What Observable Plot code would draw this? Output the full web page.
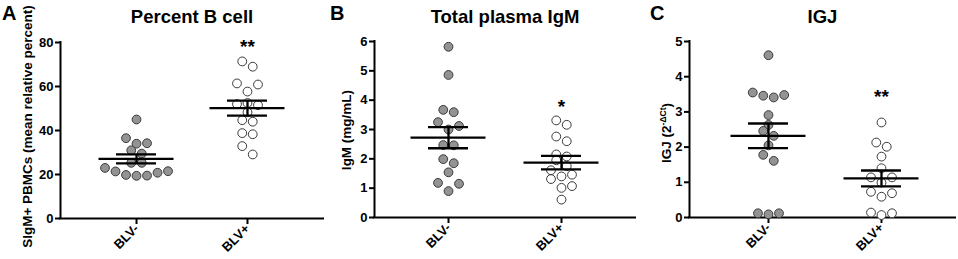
<!DOCTYPE html>
<html><head><meta charset="utf-8">
<script src="https://cdn.jsdelivr.net/npm/d3@7"></script>
<script src="https://cdn.jsdelivr.net/npm/@observablehq/plot@0.6"></script>
<style>
body{margin:0;background:#fff;}
#chart{position:relative;width:958px;height:259px;font-family:"Liberation Sans",Arial,sans-serif;}
#chart svg{position:absolute;top:0;}
</style></head><body><div id="chart"></div>
<script>
// ---- data ----
const groups = ["BLV-", "BLV+"];
const panelLetters = ["A", "B", "C"];
const panelTitles = ["Percent B cell", "Total plasma IgM", "IGJ"];

const percentBNeg = [45, 36.5, 34.2, 34, 31, 29.5, 25.3, 25.3, 23, 21.4, 21.5, 20.8, 19.8, 19.4, 19.5];
const percentBPos = [71.4, 69, 61.4, 60.9, 57.7, 52.5, 52, 51.5, 48.3, 44.7, 44, 38.8, 38.3, 32.9, 29.1];
const igmNeg = [5.82, 4.86, 3.67, 3.59, 3.25, 3.12, 3.0, 2.47, 2.46, 1.99, 1.85, 1.54, 1.18, 1.15, 0.90];
const igmPos = [3.31, 3.16, 2.76, 2.60, 2.15, 2.08, 1.95, 1.75, 1.61, 1.46, 1.40, 1.31, 1.07, 1.01, 0.61];
const igjNeg = [4.61, 3.55, 3.46, 3.41, 3.48, 2.91, 2.63, 2.46, 2.32, 2.05, 1.78, 1.61, 0.12, 0.09, 0.12];
const igjPos = [2.70, 2.13, 2.01, 1.73, 1.40, 1.14, 1.14, 0.99, 0.73, 0.69, 0.59, 0.14, 0.12, 0.07];

const percentBMean = [27.1, 50.2], percentBSem = [2.05, 3.4];
const igmMean = [2.72, 1.87], igmSem = [0.36, 0.23];
const igjMean = [2.32, 1.11], igjSem = [0.35, 0.225];

const sigLabels = ["**", "*", "**"];
const sigValues = [80, 3.9, 3.54];

const yDomains = [[0, 80], [0, 6], [0, 5]];
const yTickValues = [[0, 20, 40, 60, 80], [0, 1, 2, 3, 4, 5, 6], [0, 1, 2, 3, 4, 5]];

// ---- layout (positions / styles) ----
const layout = [
  {left: 0,   width: 330, ml: 60, mr: 7, mt: 42, mb: 41, xDomain: [-0.685, 1.685], letterX: 2,  labelX: 32, labelY: 126.5},
  {left: 330, width: 310, ml: 44, mr: 5, mt: 41, mb: 42, xDomain: [-0.655, 1.655], letterX: 0,  labelX: 21, labelY: 130},
  {left: 640, width: 318, ml: 49, mr: 3, mt: 41, mb: 42, xDomain: [-0.699, 1.655], letterX: 10, labelX: 31, labelY: 133}
];
const panelData = [[percentBNeg, percentBPos], [igmNeg, igmPos], [igjNeg, igjPos]];
const panelMeans = [percentBMean, igmMean, igjMean];
const panelSems = [percentBSem, igmSem, igjSem];

const R = 4.4, SPACING_PX = 10.5, ROW_PX = 9, MEAN_HALF_PX = 37.5, CAP_HALF_PX = 20;
const FONT = '"Liberation Sans", Arial, Helvetica, sans-serif';

// Prism-like column scatter: bin values into rows, spread each row symmetrically
function swarm(values, cx, pxPerY, pxPerX) {
  const idx = d3.range(values.length).sort((a, b) => values[a] - values[b]);
  const out = new Array(values.length);
  let i = 0;
  while (i < idx.length) {
    const v0 = values[idx[i]];
    let j = i;
    while (j < idx.length && (values[idx[j]] - v0) * pxPerY < ROW_PX) j++;
    const n = j - i;
    for (let k = 0; k < n; k++) {
      let slot;
      if (n % 2) slot = k === 0 ? 0 : (k % 2 ? (k + 1) / 2 : -k / 2);
      else slot = (k % 2 ? -1 : 1) * (Math.floor(k / 2) + 0.5);
      out[idx[i + k]] = cx + slot * SPACING_PX / pxPerX;
    }
    i = j;
  }
  return out;
}

const chart = document.getElementById("chart");
const H = 259;

layout.forEach((L, p) => {
  const frameW = L.width - L.ml - L.mr;
  const frameH = H - L.mt - L.mb;
  const yD = yDomains[p];
  const pxPerX = frameW / (L.xDomain[1] - L.xDomain[0]);
  const pxPerY = frameH / (yD[1] - yD[0]);
  const points = [];
  panelData[p].forEach((vals, g) => {
    const xs = swarm(vals, g, pxPerY, pxPerX);
    vals.forEach((v, i) => points.push({g, v, x: xs[i]}));
  });
  const stats = groups.map((name, g) => ({g, mean: panelMeans[p][g], sem: panelSems[p][g]}));
  const mh = MEAN_HALF_PX / pxPerX, ch = CAP_HALF_PX / pxPerX;

  const svg = Plot.plot({
    width: L.width, height: H,
    marginLeft: L.ml, marginRight: L.mr, marginTop: L.mt, marginBottom: L.mb,
    style: {background: "none", fontFamily: FONT, fontSize: "13px", fontWeight: "bold", color: "#000", overflow: "visible"},
    x: {domain: L.xDomain, axis: null},
    y: {domain: yD, axis: null},
    marks: [
      Plot.axisY({ticks: yTickValues[p], tickFormat: d3.format("d"), tickSize: 5, tickPadding: 2, strokeWidth: 2, label: null, fontSize: 13, fontWeight: "bold"}),
      Plot.axisX({ticks: [0, 1], tickFormat: i => groups[i], tickRotate: -45, tickSize: 6, tickPadding: 2, strokeWidth: 2, label: null, fontSize: 13, fontWeight: "bold"}),
      Plot.ruleX([L.xDomain[0]], {y1: yD[0], y2: yD[1], strokeWidth: 2, strokeLinecap: "square"}),
      Plot.ruleY([yD[0]], {strokeWidth: 2, strokeLinecap: "square"}),
      Plot.dot(points.filter(d => d.g === 0), {x: "x", y: "v", r: R, fill: "#939393", stroke: "#3a3a3a", strokeWidth: 1}),
      Plot.dot(points.filter(d => d.g === 1), {x: "x", y: "v", r: R, fill: "#ffffff", stroke: "#3a3a3a", strokeWidth: 1}),
      Plot.ruleY(stats, {y: "mean", x1: d => d.g - mh, x2: d => d.g + mh, strokeWidth: 2.3}),
      Plot.ruleY(stats, {y: d => d.mean + d.sem, x1: d => d.g - ch, x2: d => d.g + ch, strokeWidth: 2.3}),
      Plot.ruleY(stats, {y: d => d.mean - d.sem, x1: d => d.g - ch, x2: d => d.g + ch, strokeWidth: 2.3}),
      Plot.ruleX(stats, {x: "g", y1: d => d.mean - d.sem, y2: d => d.mean + d.sem, strokeWidth: 2.3}),
      Plot.text([sigLabels[p]], {x: 1, y: sigValues[p], text: d => d, lineAnchor: "bottom", dy: 10, fontSize: 19, fontWeight: "bold"}),
      Plot.text([panelTitles[p]], {frameAnchor: "top", lineAnchor: "bottom", dy: 22 - L.mt, fontSize: 18.5, fontWeight: "bold"})
    ]
  });
  svg.style.left = L.left + "px";
  const s = d3.select(svg);
  s.append("text").attr("x", L.letterX).attr("y", 20).attr("text-anchor", "start")
    .attr("font-size", 20).attr("font-weight", "bold")
    .attr("font-family", FONT).attr("fill", "#000").text(panelLetters[p]);
  const lab = s.append("text").attr("transform", `translate(${L.labelX},${L.labelY}) rotate(-90)`)
    .attr("text-anchor", "middle").attr("font-size", 13.5).attr("font-weight", "bold")
    .attr("font-family", FONT).attr("fill", "#000");
  if (p === 0) lab.text("SIgM+ PBMCs (mean relative percent)");
  if (p === 1) lab.text("IgM (mg/mL)");
  if (p === 2) {
    lab.append("tspan").text("IGJ (2");
    lab.append("tspan").attr("font-size", 8.5).attr("dy", -5).text("-ΔCt");
    lab.append("tspan").attr("dy", 5).text(")");
  }
  chart.appendChild(svg);
});
</script></body></html>
